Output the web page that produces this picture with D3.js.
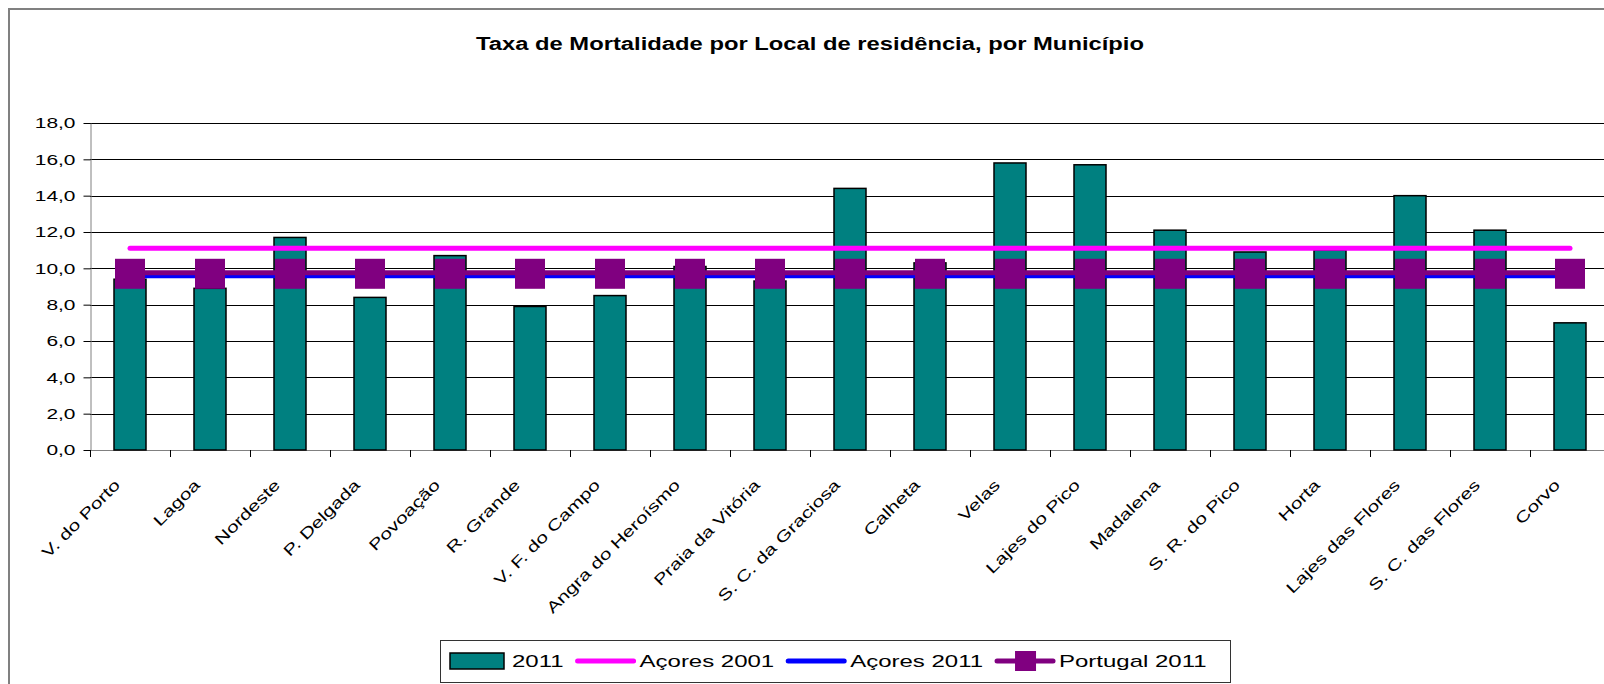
<!DOCTYPE html>
<meta charset="utf-8">

<style>
body { margin: 0; background: #fff; }
text { font-family: "Liberation Sans", Arial, sans-serif; fill: #000; }
.title { font-weight: bold; font-size: 18px; text-anchor: middle; }
.grid line { stroke: #000; stroke-width: 1; }
.bar { fill: #008080; stroke: #000; stroke-width: 1.5; }
</style>

<body>
<script src="https://d3js.org/d3.v7.min.js"></script>
<script>
var w = 1604, h = 684;

// dados
var municipios = ["V. do Porto", "Lagoa", "Nordeste", "P. Delgada", "Povoação", "R. Grande",
    "V. F. do Campo", "Angra do Heroísmo", "Praia da Vitória", "S. C. da Graciosa", "Calheta",
    "Velas", "Lajes do Pico", "Madalena", "S. R. do Pico", "Horta", "Lajes das Flores",
    "S. C. das Flores", "Corvo"];
var taxa2011 = [9.4, 8.9, 11.7, 8.4, 10.7, 7.9, 8.5, 10.1, 9.3, 14.4, 10.3,
    15.8, 15.7, 12.1, 10.9, 11.0, 14.0, 12.1, 7.0];
var acores2001 = 11.1;
var acores2011 = 9.5;
var portugal2011 = 9.7;
var yTicks = [0, 2, 4, 6, 8, 10, 12, 14, 16, 18];
var legendLabels = ["2011", "Açores 2001", "Açores 2011", "Portugal 2011"];

var svg = d3.select("body").append("svg")
    .attr("width", w)
    .attr("height", h);

// moldura do gráfico (cortada à direita e em baixo)
svg.append("rect")
    .attr("x", 9).attr("y", 9)
    .attr("width", 1700).attr("height", 800)
    .attr("fill", "#fff")
    .attr("stroke", "#808080")
    .attr("stroke-width", 2);

svg.append("text")
    .attr("class", "title")
    .attr("x", 810).attr("y", 50)
    .attr("textLength", 668)
    .attr("lengthAdjust", "spacingAndGlyphs")
    .text("Taxa de Mortalidade por Local de residência, por Município");

var plotLeft = 90, plotTop = 123, plotBottom = 450;
var x = d3.scaleBand().domain(municipios).range([plotLeft, plotLeft + 80 * municipios.length]);
var y = d3.scaleLinear().domain([0, 18]).range([plotBottom, plotTop]);
var barW = 32;

var pt = d3.formatLocale({decimal: ",", thousands: ".", grouping: [3], currency: ["", "€"]});
var fmt = pt.format(".1f");

// grelha
svg.append("g")
    .attr("class", "grid")
    .selectAll("line")
    .data(yTicks.filter(function(d){ return d > 0; }))
    .enter().append("line")
    .attr("x1", plotLeft).attr("x2", w)
    .attr("y1", function(d){ return Math.round(y(d)) + 0.5; })
    .attr("y2", function(d){ return Math.round(y(d)) + 0.5; });

// eixo y
var yAxis = svg.append("g")
    .attr("transform", "translate(" + (plotLeft + 0.5) + ",0)")
    .call(d3.axisLeft(y).tickValues(yTicks).tickSize(7).tickSizeOuter(0).tickFormat(fmt));
yAxis.select(".domain").attr("stroke", "#808080");
yAxis.selectAll(".tick line").attr("stroke", "#000");
yAxis.selectAll(".tick text")
    .attr("x", 0)
    .attr("font-size", 15.5)
    .attr("font-family", "Liberation Sans, Arial, sans-serif")
    .attr("transform", "translate(-15,0) scale(1.35,1)");

// eixo x
var xg = svg.append("g");
xg.append("line")
    .attr("x1", plotLeft).attr("x2", w)
    .attr("y1", plotBottom + 0.5).attr("y2", plotBottom + 0.5)
    .attr("stroke", "#808080");
xg.selectAll(".xtick")
    .data(municipios.concat([null]))
    .enter().append("line")
    .attr("x1", function(d, i){ return plotLeft + i * x.step() + 0.5; })
    .attr("x2", function(d, i){ return plotLeft + i * x.step() + 0.5; })
    .attr("y1", plotBottom).attr("y2", plotBottom + 7)
    .attr("stroke", "#000");

// barras
svg.append("g")
    .selectAll("rect")
    .data(municipios)
    .enter().append("rect")
    .attr("class", "bar")
    .attr("x", function(d){ return x(d) + (x.bandwidth() - barW) / 2; })
    .attr("y", function(d, i){ return y(taxa2011[i]); })
    .attr("width", barW)
    .attr("height", function(d, i){ return plotBottom - y(taxa2011[i]); });

// rótulos x
xg.selectAll(".xlab")
    .data(municipios)
    .enter().append("text")
    .attr("font-size", 15.5)
    .attr("text-anchor", "end")
    .attr("transform", function(d){
        var cx = x(d) + x.bandwidth() / 2;
        return "translate(" + (cx - 9) + "," + (plotBottom + 36) + ") rotate(-45) scale(1.35,1)";
    })
    .text(function(d){ return d; });

// linhas de referência
var x0 = x(municipios[0]) + x.bandwidth() / 2;
var x1 = x(municipios[municipios.length - 1]) + x.bandwidth() / 2;

svg.append("line")
    .attr("x1", x0).attr("x2", x1)
    .attr("y1", y(acores2001)).attr("y2", y(acores2001))
    .attr("stroke", "#ff00ff").attr("stroke-width", 5).attr("stroke-linecap", "round");

svg.append("line")
    .attr("x1", x0).attr("x2", x1)
    .attr("y1", y(acores2011) - 1).attr("y2", y(acores2011) - 1)
    .attr("stroke", "#0000ff").attr("stroke-width", 3.5);

svg.append("line")
    .attr("x1", x0).attr("x2", x1)
    .attr("y1", y(portugal2011) - 1).attr("y2", y(portugal2011) - 1)
    .attr("stroke", "#800080").attr("stroke-width", 5);

svg.append("g")
    .selectAll("rect")
    .data(municipios)
    .enter().append("rect")
    .attr("x", function(d){ return x(d) + x.bandwidth() / 2 - 15; })
    .attr("y", y(portugal2011) - 15)
    .attr("width", 30).attr("height", 30)
    .attr("fill", "#800080");

// legenda
var lg = svg.append("g");
lg.append("rect")
    .attr("x", 440.5).attr("y", 640.5)
    .attr("width", 790).attr("height", 42)
    .attr("fill", "#fff").attr("stroke", "#333");

var cy = 661, cursor = 450;
legendLabels.forEach(function(lab, i){
    if (i == 0) {
        lg.append("rect")
            .attr("x", cursor).attr("y", cy - 8)
            .attr("width", 54).attr("height", 16)
            .attr("fill", "#008080").attr("stroke", "#000").attr("stroke-width", 1.5);
        cursor += 62;
    } else {
        var col = ["#ff00ff", "#0000ff", "#800080"][i - 1];
        lg.append("line")
            .attr("x1", cursor + 2).attr("x2", cursor + 58)
            .attr("y1", cy).attr("y2", cy)
            .attr("stroke", col).attr("stroke-width", 5).attr("stroke-linecap", "round");
        if (i == 3) {
            lg.append("rect")
                .attr("x", cursor + 20).attr("y", cy - 10)
                .attr("width", 21).attr("height", 20)
                .attr("fill", "#800080");
        }
        cursor += 64;
    }
    var t = lg.append("text")
        .attr("font-size", 16)
        .attr("transform", "translate(" + cursor + "," + (cy + 6) + ") scale(1.5,1)")
        .text(lab);
    cursor += t.node().getComputedTextLength() * 1.5 + 12;
});
</script>
</body>
